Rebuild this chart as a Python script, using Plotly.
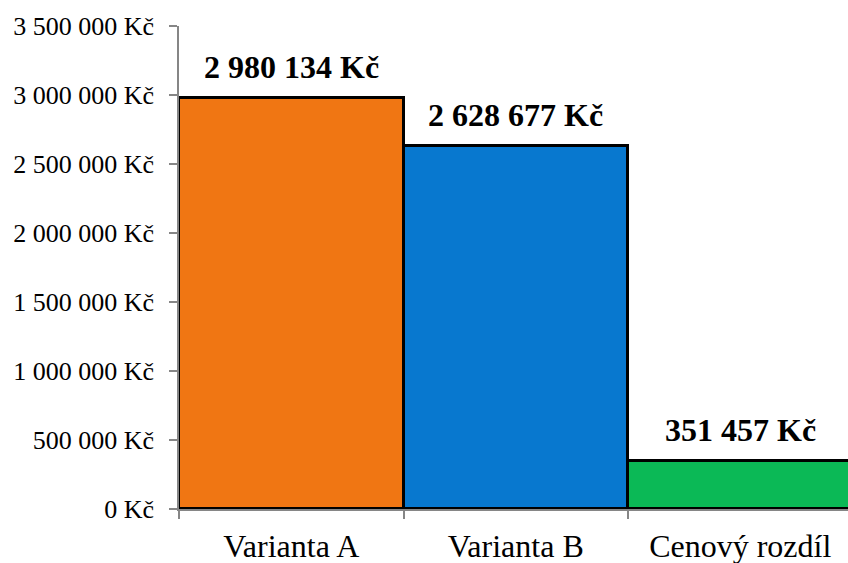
import plotly.graph_objects as go

categories = ["Varianta A", "Varianta B", "Cenový rozdíl"]
values = [2980134, 2628677, 351457]
value_labels = ["2 980 134 Kč", "2 628 677 Kč", "351 457 Kč"]
bar_colors = ["#F07613", "#0878CF", "#0BB956"]
y_tickvals = [0, 500000, 1000000, 1500000, 2000000, 2500000, 3000000, 3500000]
y_ticktext = ["0 Kč", "500 000 Kč", "1 000 000 Kč", "1 500 000 Kč", "2 000 000 Kč",
              "2 500 000 Kč", "3 000 000 Kč", "3 500 000 Kč"]

FONT = "Liberation Serif"

fig = go.Figure()
fig.add_trace(go.Bar(
    x=categories, y=values,
    marker=dict(color=bar_colors, line=dict(color="black", width=3)),
    showlegend=False, hoverinfo="skip",
))

for c, v, t in zip(categories, values, value_labels):
    fig.add_annotation(x=c, y=v, text="<b>%s</b>" % t, showarrow=False,
                       xanchor="center", yanchor="bottom", yshift=11,
                       font=dict(family=FONT, size=32, color="black"))

fig.update_layout(
    width=848, height=563,
    margin=dict(l=179, r=0, t=26, b=54),
    paper_bgcolor="white", plot_bgcolor="white",
    bargap=0,
    font=dict(family=FONT, color="black"),
)
fig.update_xaxes(
    range=[-0.5, 2.48], showgrid=False, showline=True, linecolor="#868686", linewidth=1.5,
    ticks="outside", tickson="boundaries", ticklen=8, tickcolor="#868686", tickwidth=1.5,
    tickfont=dict(family=FONT, size=32, color="black"), ticklabelstandoff=8, automargin=False,
)
fig.update_yaxes(
    range=[0, 3500000], tickvals=y_tickvals, ticktext=y_ticktext, showgrid=False,
    zeroline=False, showline=True, linecolor="#868686", linewidth=1.5,
    ticks="outside", ticklen=8, tickcolor="#868686", tickwidth=1.5,
    tickfont=dict(family=FONT, size=26, color="black"), ticklabelstandoff=10, automargin=False,
)

fig.write_html("out.html", config={"displayModeBar": False},
               post_script="document.body.style.margin='0';document.body.style.overflow='hidden';")
